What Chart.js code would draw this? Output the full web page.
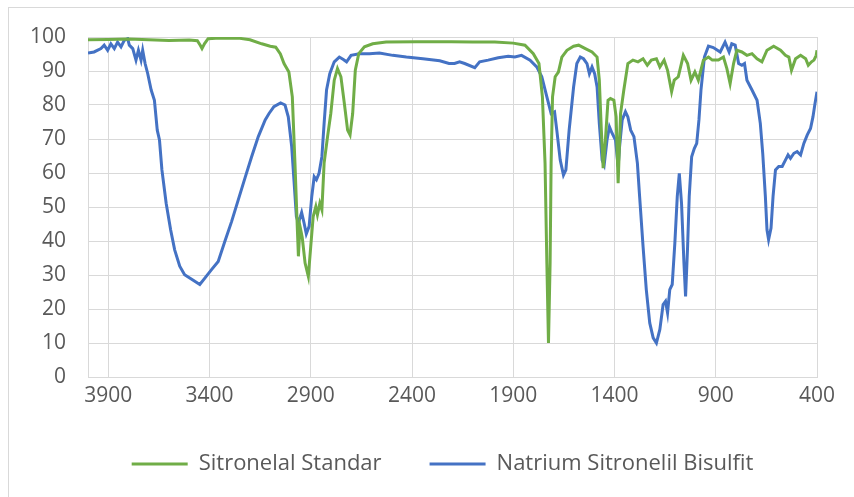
<!DOCTYPE html>
<html lang="en">
<head>
  <meta charset="UTF-8" />
  <title>FTIR Sitronelal vs Natrium Sitronelil Bisulfit</title>
  <script src="https://cdn.jsdelivr.net/npm/chart.js"></script>
  <style>
    body {
      margin: 0;
      background: #ffffff;
      overflow: hidden;
      font-family: 'Open Sans', sans-serif;
    }
    #frame {
      position: absolute;
      left: 8px;
      top: 7px;
      width: 846px;
      height: 490px;
      border-left: 1px solid #d9d9d9;
      border-top: 1px solid #d9d9d9;
    }
    #irChart {
      position: absolute;
      left: 0;
      top: 0;
    }
  </style>
</head>
<body>

  <div id="frame"></div>
  <canvas id="irChart" width="854" height="497"></canvas>

  <script>
    // wavenumber axis ticks (cm-1) and transmittance ticks
    const xTicks = [400, 900, 1400, 1900, 2400, 2900, 3400, 3900];
    const yTicks = [0, 10, 20, 30, 40, 50, 60, 70, 80, 90, 100];

    // Sitronelal Standar
    const standarWn = [
      4000, 3900, 3800, 3700, 3600, 3500, 3460, 3445, 3437, 3425, 3407, 3350, 3250, 3200, 3142, 3100,
      3073, 3050, 3032, 3008, 2991, 2978, 2966, 2961, 2953, 2942, 2928, 2912, 2900, 2888, 2875, 2867,
      2855, 2845, 2834, 2817, 2801, 2784, 2768, 2751, 2734, 2718, 2706, 2693, 2680, 2663, 2635, 2594,
      2528, 2380, 2205, 2100, 1991, 1900, 1842, 1801, 1773, 1756, 1743, 1734, 1726, 1718, 1713, 1706,
      1693, 1677, 1660, 1635, 1602, 1577, 1544, 1511, 1486, 1475, 1465, 1456, 1445, 1432, 1420, 1403,
      1392, 1382, 1370, 1354, 1334, 1309, 1284, 1259, 1238, 1218, 1193, 1176, 1155, 1138, 1118, 1105,
      1085, 1060, 1039, 1022, 1003, 986, 961, 936, 917, 887, 862, 845, 829, 812, 796, 771,
      746, 721, 696, 672, 647, 614, 580, 556, 539, 526, 506, 481, 456, 443, 427, 415,
      404, 400
    ];
    const standarT = [
      99.2, 99.3, 99.4, 99.2, 99.0, 99.1, 98.9, 97.5, 96.6, 98.0, 99.5, 99.7, 99.6, 99.2, 98.0, 97.3,
      97.0, 95.0, 92.2, 89.7, 82.4, 62.9, 43.3, 35.5, 44.3, 41.0, 33.5, 29.6, 38.4, 47.2, 50.1, 47.7,
      51.1, 49.2, 62.9, 70.7, 77.5, 87.3, 90.7, 88.3, 80.4, 72.6, 71.2, 77.5, 90.2, 95.1, 97.1, 98.0,
      98.5, 98.6, 98.6, 98.5, 98.5, 98.2, 97.6, 95.1, 92.2, 82.4, 62.9, 33.5, 10.0, 33.5, 62.9, 82.4,
      88.3, 89.7, 94.1, 96.1, 97.3, 97.6, 96.6, 95.6, 94.1, 87.3, 72.6, 61.4, 69.7, 81.4, 81.9, 81.4,
      76.5, 57.0, 77.5, 84.4, 92.2, 93.2, 92.7, 93.6, 91.7, 93.2, 93.6, 91.2, 93.2, 90.2, 83.9, 87.3,
      88.3, 94.6, 92.2, 87.3, 89.7, 87.3, 93.2, 94.1, 93.2, 93.2, 94.1, 90.7, 86.3, 92.2, 96.1, 95.6,
      94.6, 95.1, 93.6, 92.7, 96.1, 97.3, 96.1, 94.6, 94.1, 90.2, 93.6, 94.6, 93.6, 91.7, 92.7, 93.2,
      94.6, 96.1
    ];

    // Natrium Sitronelil Bisulfit
    const bisulfitWn = [
      4000, 3970, 3936, 3920, 3903, 3887, 3870, 3854, 3837, 3821, 3804, 3796, 3779, 3763, 3751, 3738,
      3730, 3718, 3705, 3688, 3672, 3658, 3647, 3635, 3614, 3592, 3572, 3547, 3523, 3490, 3448, 3423,
      3390, 3357, 3324, 3291, 3258, 3225, 3192, 3159, 3125, 3106, 3082, 3049, 3027, 3011, 2994, 2983,
      2971, 2961, 2945, 2933, 2922, 2908, 2895, 2883, 2872, 2859, 2845, 2834, 2822, 2806, 2784, 2759,
      2739, 2723, 2701, 2660, 2610, 2561, 2495, 2428, 2346, 2263, 2217, 2190, 2165, 2140, 2090, 2066,
      2024, 1974, 1925, 1892, 1859, 1817, 1784, 1759, 1734, 1713, 1696, 1685, 1668, 1652, 1640, 1624,
      1602, 1586, 1569, 1553, 1536, 1524, 1511, 1498, 1486, 1475, 1461, 1451, 1437, 1425, 1412, 1395,
      1382, 1375, 1362, 1346, 1334, 1320, 1304, 1287, 1276, 1259, 1243, 1226, 1209, 1193, 1176, 1160,
      1148, 1138, 1127, 1115, 1102, 1090, 1080, 1069, 1057, 1049, 1039, 1031, 1019, 1006, 994, 983,
      973, 956, 936, 912, 878, 854, 834, 821, 804, 787, 771, 758, 746, 721, 696, 680,
      668, 655, 647, 639, 627, 617, 605, 589, 572, 556, 543, 531, 514, 498, 481, 465,
      448, 432, 420, 410, 400
    ];
    const bisulfitT = [
      95.3, 95.6, 96.6, 97.6, 96.1, 98.0, 96.6, 98.5, 97.1, 99.0, 99.5, 97.6, 96.6, 93.2, 96.1, 93.2,
      96.1, 92.2, 89.2, 84.4, 81.4, 72.6, 69.7, 60.9, 51.1, 43.3, 37.4, 32.6, 30.1, 28.8, 27.2, 29.1,
      31.6, 34.0, 39.9, 45.7, 52.1, 58.5, 64.8, 70.7, 75.6, 77.5, 79.5, 80.6, 80.0, 76.5, 67.7, 58.0,
      47.2, 45.3, 48.4, 45.3, 42.1, 44.3, 53.1, 58.9, 58.0, 59.9, 64.8, 74.6, 84.4, 89.2, 92.7, 94.1,
      93.4, 92.7, 94.6, 95.1, 95.1, 95.3, 94.6, 94.1, 93.6, 93.0, 92.2, 92.2, 92.7, 92.2, 91.0, 92.7,
      93.2, 93.9, 94.3, 94.1, 94.6, 93.2, 91.2, 88.3, 82.4, 77.5, 78.0, 72.6, 63.8, 59.4, 60.9, 72.6,
      85.3, 92.2, 94.1, 93.6, 92.2, 89.2, 91.2, 89.2, 85.3, 74.6, 63.8, 62.4, 69.7, 73.6, 71.7, 69.7,
      61.9, 67.7, 75.6, 78.0, 76.5, 72.6, 70.7, 62.9, 53.1, 38.4, 25.7, 15.9, 11.5, 10.0, 14.0, 21.3,
      22.3, 18.9, 25.7, 27.2, 39.4, 53.1, 59.9, 51.1, 33.5, 23.7, 38.4, 53.1, 64.8, 67.2, 68.7, 75.6,
      84.4, 94.1, 97.3, 96.9, 95.6, 98.5, 95.6, 98.0, 97.6, 92.2, 91.7, 92.2, 87.3, 84.4, 81.4, 74.6,
      65.8, 53.1, 43.3, 40.4, 43.8, 53.1, 60.9, 61.9, 61.9, 63.8, 65.3, 64.3, 65.8, 66.3, 65.3, 68.7,
      71.2, 73.1, 76.5, 80.4, 83.9
    ];

    const toPoints = (wn, t) => wn.map((w, i) => ({ x: w, y: t[i] }));

    const labelColor = '#595959';
    const gridColor = '#d9d9d9';

    // the Excel legend sits a bit right of the plot centre
    const legendShift = {
      id: 'legendShift',
      afterLayout(chart) {
        chart.legend.left += 34;
        chart.legend.right += 34;
      }
    };

    new Chart(document.getElementById('irChart').getContext('2d'), {
      type: 'line',
      data: {
        datasets: [
          {
            label: 'Sitronelal Standar',
            data: toPoints(standarWn, standarT),
            borderColor: '#70ad47',
            backgroundColor: '#70ad47',
            borderWidth: 3,
            pointRadius: 0,
            tension: 0,
            fill: false
          },
          {
            label: 'Natrium Sitronelil Bisulfit',
            data: toPoints(bisulfitWn, bisulfitT),
            borderColor: '#4472c4',
            backgroundColor: '#4472c4',
            borderWidth: 3,
            pointRadius: 0,
            tension: 0,
            fill: false
          }
        ]
      },
      options: {
        responsive: false,
        animation: false,
        layout: { padding: { left: 0, right: 37, top: 37, bottom: 12 } },
        scales: {
          x: {
            type: 'linear',
            reverse: true,
            min: 400,
            max: 4000,
            afterBuildTicks: s => { s.ticks = xTicks.map(v => ({ value: v })); },
            afterFit: s => { s.height = 28; },
            grid: { color: gridColor, drawTicks: false },
            border: { color: gridColor },
            ticks: {
              color: labelColor,
              padding: 6,
              maxRotation: 0,
              font: { family: "'Open Sans', sans-serif", size: 21 },
              callback: v => String(v)
            }
          },
          y: {
            min: 0,
            max: 100,
            afterBuildTicks: s => { s.ticks = yTicks.map(v => ({ value: v })); },
            afterFit: s => { s.width = 88; },
            grid: { color: gridColor, drawTicks: false },
            border: { color: gridColor },
            ticks: {
              color: labelColor,
              padding: 22,
              font: { family: "'Open Sans', sans-serif", size: 21 },
              callback: v => String(v)
            }
          }
        },
        plugins: {
          tooltip: { enabled: false },
          legend: {
            position: 'bottom',
            labels: {
              usePointStyle: true,
              pointStyle: 'line',
              pointStyleWidth: 56,
              padding: 48,
              color: labelColor,
              font: { family: "'Open Sans', sans-serif", size: 22 }
            }
          }
        }
      },
      plugins: [legendShift]
    });
  </script>
</body>
</html>
